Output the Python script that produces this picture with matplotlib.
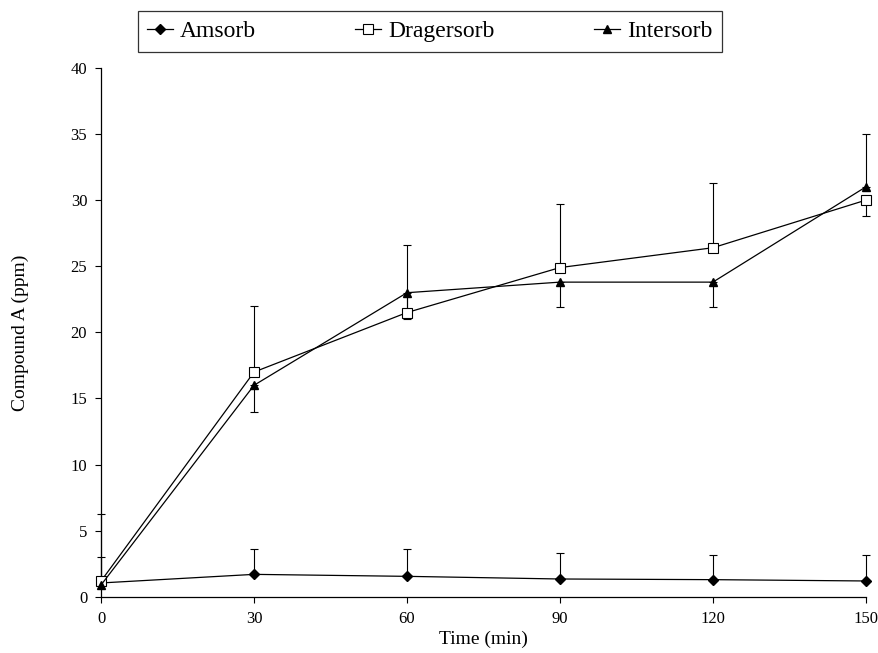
import matplotlib
matplotlib.use("Agg")
import matplotlib.pyplot as plt

plt.rcParams['font.family'] = ['Liberation Serif', 'DejaVu Serif']

# Data
time = [0, 30, 60, 90, 120, 150]

amsorb = [1.05, 1.7, 1.55, 1.35, 1.3, 1.2]
amsorb_up = [2.0, 1.9, 2.05, 1.95, 1.9, 2.0]

drager = [1.2, 17.0, 21.5, 24.9, 26.4, 30.0]
drager_up = [5.1, 5.0, 5.1, 4.8, 4.9, 0.0]
drager_down = [0.0, 0.0, 0.0, 0.0, 0.0, 1.2]

inter = [0.9, 16.0, 23.0, 23.8, 23.8, 31.0]
inter_up = [0.0, 0.0, 0.0, 0.0, 0.0, 4.0]
inter_down = [0.0, 2.0, 2.0, 1.9, 1.9, 0.0]

fig = plt.figure(figsize=(8.79, 6.53), dpi=100)
ax = fig.add_axes([0.115, 0.086, 0.87, 0.81])

# error bars first, markers drawn above them
eb = dict(fmt='none', ecolor='black', elinewidth=0.8, capsize=3, capthick=0.8,
          clip_on=False, zorder=2)
ax.errorbar(time, amsorb, yerr=[[0] * 6, amsorb_up], **eb)
ax.errorbar(time, drager, yerr=[drager_down, drager_up], **eb)
ax.errorbar(time, inter, yerr=[inter_down, inter_up], **eb)

ax.plot(time, amsorb, color='black', lw=0.9, marker='D', ms=5,
        mfc='black', mec='black', label='Amsorb', clip_on=False, zorder=3)
ax.plot(time, drager, color='black', lw=0.9, marker='s', ms=7,
        mfc='white', mec='black', mew=0.8, label='Dragersorb', clip_on=False, zorder=4)
ax.plot(time, inter, color='black', lw=0.9, marker='^', ms=6,
        mfc='black', mec='black', label='Intersorb', clip_on=False, zorder=4)

ax.set_xlim(0, 150)
ax.set_ylim(0, 40)
ax.set_xticks(time)
ax.set_yticks(range(0, 41, 5))
ax.tick_params(direction='out', length=4, width=0.8, labelsize=12, pad=6)

for s in ['top', 'right']:
    ax.spines[s].set_visible(False)
for s in ['left', 'bottom']:
    ax.spines[s].set_linewidth(0.9)

ax.set_xlabel('Time (min)', fontsize=14, labelpad=3)
ax.set_ylabel('Compound A (ppm)', fontsize=14, labelpad=30)

leg = fig.legend(loc='center', bbox_to_anchor=(0.489, 0.952), ncol=3,
                 fontsize=17, frameon=True, fancybox=False, handlelength=1.1,
                 handletextpad=0.3, columnspacing=4.2, borderpad=0.4)
leg.get_frame().set_edgecolor('black')
leg.get_frame().set_linewidth(0.9)

fig.savefig('out.png', dpi=100)
